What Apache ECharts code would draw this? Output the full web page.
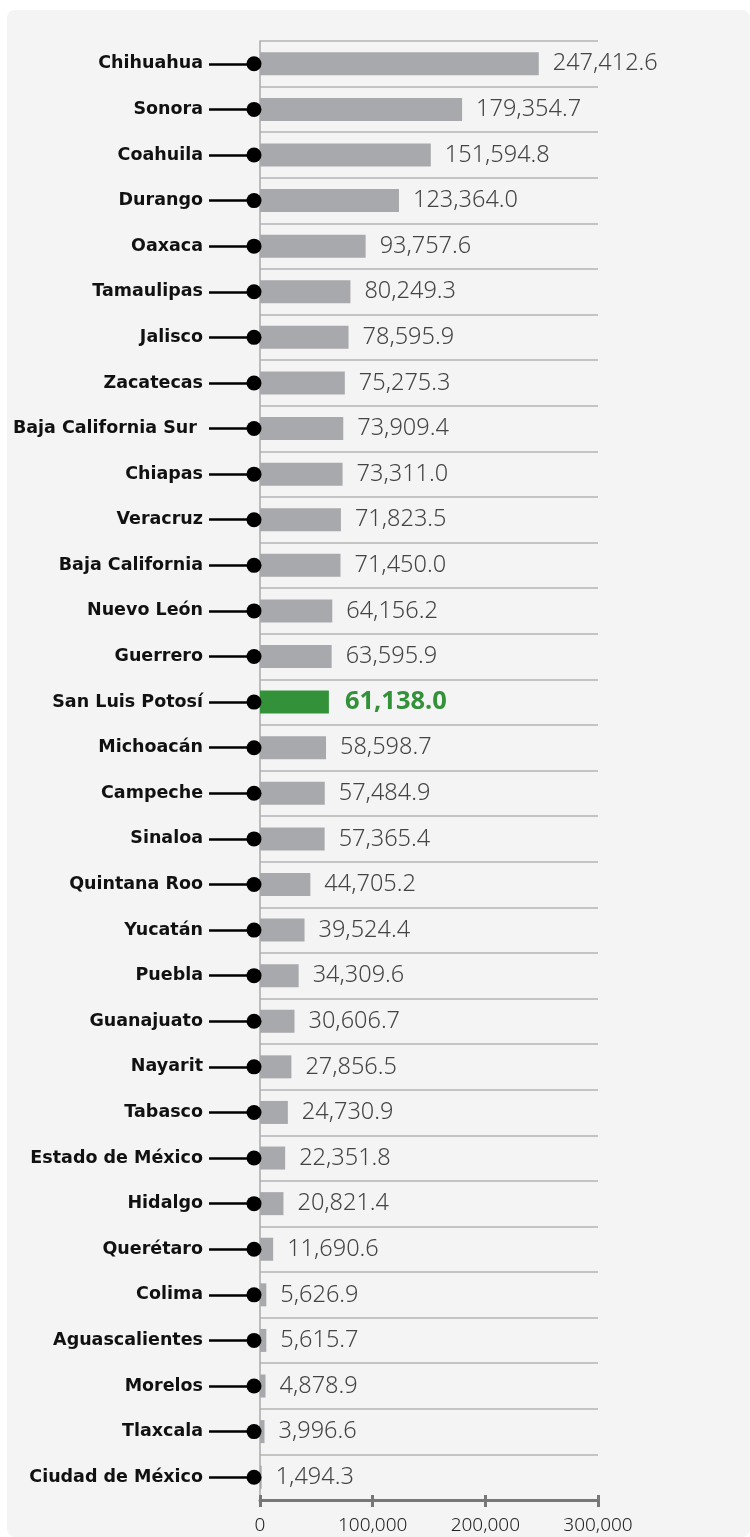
<!DOCTYPE html>
<html>
<head>
<meta charset="utf-8">
<script src="https://cdn.jsdelivr.net/npm/echarts@6/dist/echarts.min.js"></script>
<style>
  html, body { margin: 0; padding: 0; background: #fff; }
  .panel {
    position: absolute;
    left: 7px;
    top: 10px;
    width: 743px;
    height: 1527px;
    background: #f4f4f4;
    border-radius: 8px;
  }
  #barchart {
    position: absolute;
    left: 0;
    top: 0;
    width: 750px;
    height: 1537px;
  }
</style>
</head>
<body>
<div class="panel"></div>
<div id="barchart"></div>
<script>
// estados, de mayor a menor
const states = [
  "Chihuahua", "Sonora", "Coahuila", "Durango", "Oaxaca", "Tamaulipas",
  "Jalisco", "Zacatecas", "Baja California Sur ", "Chiapas", "Veracruz",
  "Baja California", "Nuevo León", "Guerrero", "San Luis Potosí", "Michoacán",
  "Campeche", "Sinaloa", "Quintana Roo", "Yucatán", "Puebla", "Guanajuato",
  "Nayarit", "Tabasco", "Estado de México", "Hidalgo", "Querétaro", "Colima",
  "Aguascalientes", "Morelos", "Tlaxcala", "Ciudad de México"
];
const values = [
  247412.6, 179354.7, 151594.8, 123364.0, 93757.6, 80249.3,
  78595.9, 75275.3, 73909.4, 73311.0, 71823.5,
  71450.0, 64156.2, 63595.9, 61138.0, 58598.7,
  57484.9, 57365.4, 44705.2, 39524.4, 34309.6, 30606.7,
  27856.5, 24730.9, 22351.8, 20821.4, 11690.6, 5626.9,
  5615.7, 4878.9, 3996.6, 1494.3
];
const highlight = "San Luis Potosí";
const xTicks = [0, 100000, 200000, 300000];

const fmt = new Intl.NumberFormat("en-US", { minimumFractionDigits: 1, maximumFractionDigits: 1 });

const barData = values.map((v, i) => {
  if (states[i] !== highlight) return v;
  return {
    value: v,
    itemStyle: { color: "#33913a" },
    label: { color: "#33913a", fontWeight: "bold", fontSize: 25.5, distance: 16 },
  };
});

const grid = { left: 260, right: 152, top: 41, bottom: 37 };

const option = {
  animation: false,
  grid: grid,
  xAxis: [
    {
      type: "value",
      position: "bottom",
      min: xTicks[0],
      max: xTicks[xTicks.length - 1],
      interval: 100000,
      axisLine: { show: true, lineStyle: { color: "#777", width: 3 } },
      axisTick: { show: true, length: 7, lineStyle: { color: "#777", width: 3 } },
      axisLabel: {
        margin: 16,
        fontSize: 19,
        fontFamily: "Noto Sans",
        fontWeight: 300,
        color: "#222",
        formatter: (v) => v.toLocaleString("en-US"),
      },
      splitLine: { show: false },
    },
    {
      type: "value",
      position: "bottom",
      min: xTicks[0],
      max: xTicks[xTicks.length - 1],
      interval: 100000,
      axisLine: { show: false },
      axisTick: { show: true, inside: true, length: 5, lineStyle: { color: "#777", width: 3 } },
      axisLabel: { show: false },
      splitLine: { show: false },
    },
  ],
  yAxis: {
    type: "category",
    inverse: true,
    data: states,
    axisLine: { show: true, lineStyle: { color: "#aaa", width: 1.5 } },
    axisTick: {
      show: true,
      alignWithLabel: true,
      length: 51,
      lineStyle: { color: "#000", width: 2.5 },
    },
    axisLabel: {
      margin: 57,
      fontSize: 17.5,
      fontWeight: "bold",
      fontFamily: "DejaVu Sans",
      color: "#111",
    },
    splitLine: { show: true, lineStyle: { color: "#b4b4b4", width: 1.5 } },
  },
  series: [
    {
      type: "bar",
      data: barData,
      barWidth: 23,
      itemStyle: { color: "#a8a9ac" },
      label: {
        show: true,
        position: "right",
        distance: 14,
        fontSize: 23.5,
        fontFamily: "Noto Sans",
        fontWeight: 300,
        color: "#444",
        formatter: (p) => fmt.format(p.value),
      },
      z: 2,
    },
    {
      type: "scatter",
      data: states.map((s) => [0, s]),
      symbol: "circle",
      symbolSize: 15,
      symbolOffset: [-6, 0],
      itemStyle: { color: "#000", opacity: 1 },
      clip: false,
      silent: true,
      z: 5,
    },
  ],
};

const chart = echarts.init(document.getElementById("barchart"));
chart.setOption(option);
</script>
</body>
</html>
